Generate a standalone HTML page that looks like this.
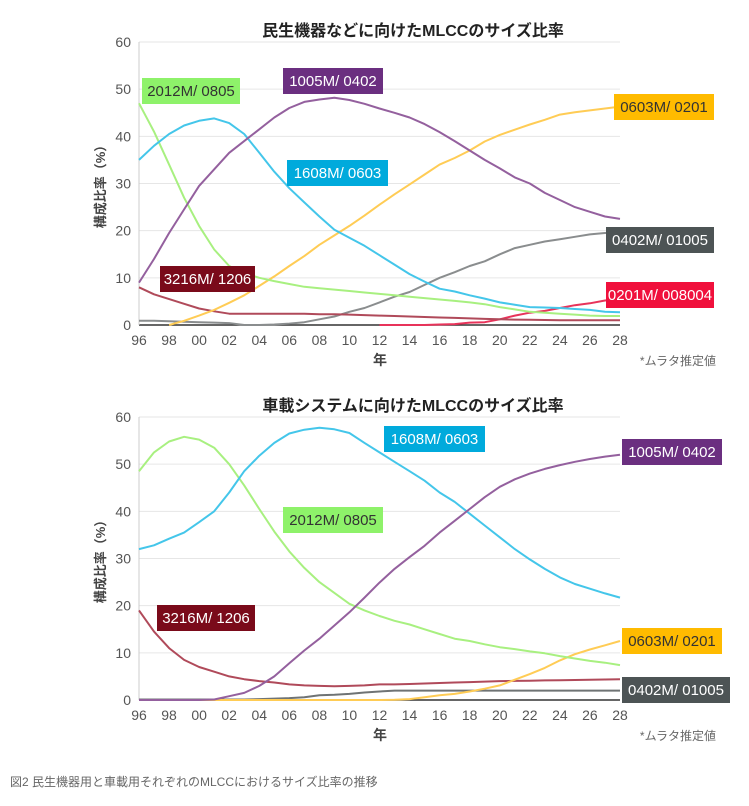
<!DOCTYPE html>
<html><head><meta charset="utf-8">
<style>
html,body{margin:0;padding:0;background:#fff;}
body{width:749px;height:801px;overflow:hidden;font-family:"Liberation Sans","Noto Sans CJK JP",sans-serif;}
svg text{font-family:"Liberation Sans","Noto Sans CJK JP",sans-serif;}
</style></head>
<body>
<svg id="chart" width="749" height="801" viewBox="0 0 749 801" xmlns="http://www.w3.org/2000/svg"></svg>
<script>
// shared categories
const years = ['96','97','98','99','00','01','02','03','04','05','06','07','08','09','10','11','12','13','14','15','16','17','18','19','20','21','22','23','24','25','26','27','28'];
const tickLabels = ['96','98','00','02','04','06','08','10','12','14','16','18','20','22','24','26','28'];
const yTicks = [0,10,20,30,40,50,60];

// top chart (consumer)
const topTitle = '民生機器などに向けたMLCCのサイズ比率';
const top2012 = [47,41,34,27,21,16,12.5,11,10,9.3,8.7,8.1,7.8,7.5,7.2,6.9,6.6,6.3,6,5.7,5.4,5.1,4.8,4.4,3.8,3.3,2.8,2.6,2.4,2.2,2.0,1.9,1.9];
const top1608 = [35,38,40.5,42.3,43.3,43.8,42.8,40.5,36.5,32.5,29,26,23,20.2,18.5,16.8,14.8,12.8,10.8,9.2,7.7,7.1,6.3,5.6,4.8,4.3,3.8,3.7,3.6,3.4,3.2,2.8,2.7];
const top1005 = [9,14,19.5,24.5,29.5,33,36.5,39,41.5,44,46,47.3,47.8,48.2,47.7,46.9,45.9,45,44,42.6,40.9,39,37,35,33.2,31.3,30,28,26.5,25,24,23,22.5];
const top0603 = [null,null,0,0.9,2,3.2,4.7,6.3,8.3,10.3,12.5,14.6,17,19,21,23.2,25.5,27.7,29.8,31.9,34,35.4,37,38.9,40.3,41.4,42.5,43.5,44.6,45.1,45.5,45.9,46.3];
const top0402 = [0.9,0.9,0.8,0.7,0.6,0.5,0.4,0,0,0.1,0.3,0.6,1.2,1.8,2.8,3.6,4.8,6,7,8.5,10,11.2,12.5,13.5,15,16.3,17,17.7,18.2,18.7,19.2,19.5,19.6];
const top3216 = [8,6.5,5.5,4.5,3.5,2.9,2.4,2.4,2.4,2.4,2.4,2.4,2.3,2.3,2.2,2.1,2.0,1.9,1.8,1.7,1.6,1.5,1.4,1.3,1.2,1.15,1.1,1.05,1,1,1,1,1];
const top0201 = [null,null,null,null,null,null,null,null,null,null,null,null,null,null,null,null,0,0,0,0,0.1,0.2,0.5,0.6,1.2,2,2.6,3,3.6,4.2,4.6,5.2,5.6];

// bottom chart (automotive)
const botTitle = '車載システムに向けたMLCCのサイズ比率';
const bot1608 = [32,32.8,34.2,35.5,37.7,40,44,48.5,51.8,54.5,56.5,57.3,57.7,57.4,56.6,54.5,52.5,50.5,48.5,46.5,44,42,39.5,37,34.5,32,29.8,27.8,26,24.6,23.6,22.6,21.7];
const bot2012 = [48.5,52.5,54.8,55.8,55.2,53.5,50,45.5,40.5,35.7,31.5,28,25,22.7,20.4,19,17.8,16.8,16,15,14,13,12.5,11.8,11.2,10.8,10.3,9.9,9.3,8.8,8.3,7.9,7.4];
const bot1005 = [0,0,0,0,0,0.1,0.8,1.5,3,5,7.8,10.5,13,15.8,18.6,21.7,24.9,27.8,30.3,32.7,35.5,38,40.5,43,45.2,46.8,48,49,49.8,50.5,51.1,51.6,52];
const bot0603 = [0,0,0,0,0,0,0,0,0,0,0,0,0,0,0,0,0,0.05,0.2,0.6,1,1.3,1.8,2.4,3.1,4.3,5.5,6.8,8.4,9.7,10.7,11.6,12.5];
const bot0402 = [0.1,0.1,0.1,0.1,0.1,0.1,0.1,0.1,0.2,0.3,0.4,0.6,1,1.1,1.3,1.6,1.8,2,2,2,2,2,2,2,2,2,2,2,2,2,2,2,2];
const bot3216 = [19,14.5,11,8.5,7,6,5,4.4,4,3.7,3.3,3.1,3.0,2.9,3,3.1,3.3,3.3,3.4,3.5,3.6,3.7,3.8,3.9,4,4.05,4.1,4.15,4.2,4.25,4.3,4.35,4.4];

const NS='http://www.w3.org/2000/svg';
const svg=document.getElementById('chart');
function mk(tag,attrs,parent){const e=document.createElementNS(NS,tag);for(const k in attrs)e.setAttribute(k,attrs[k]);(parent||svg).appendChild(e);return e;}

function drawChart(g, cfg){
  const x0=139,x1=620,yb=cfg.yBase,yt=cfg.yTop;
  const xScale=i=>x0+(x1-x0)*i/(years.length-1);
  const yScale=v=>yb-(yb-yt)*v/60;
  const t=mk('text',{x:413,y:cfg.titleY,'text-anchor':'middle','font-size':'16','font-weight':'bold',fill:'#222'},g);
  t.textContent=cfg.title;
  
  
  yTicks.forEach(v=>{
    const l=mk('line',{x1:x0,x2:x1,y1:yScale(v),y2:yScale(v),stroke:v===0?'#333':'#e6e6e6','stroke-width':v===0?1.5:1},g);
    
    
    const tt=mk('text',{x:x0-8,y:yScale(v)+5,'text-anchor':'end','font-size':'14',fill:'#555'},g);
    tt.textContent=v;
    
    
  });
  const ax=mk('line',{x1:x0,x2:x0,y1:yt,y2:yb,stroke:'#ccc','stroke-width':1},g);
  
  
  tickLabels.forEach(lab=>{
    const i=years.indexOf(lab);
    const tt=mk('text',{x:xScale(i),y:yb+20,'text-anchor':'middle','font-size':'14',fill:'#555'},g);
    tt.textContent=lab;
    
    
  });
  const xt=mk('text',{x:380,y:yb+40,'text-anchor':'middle','font-size':'14','font-weight':'bold',fill:'#444'},g);
  xt.textContent='年';
  
  
  const note=mk('text',{x:716,y:yb+40,'text-anchor':'end','font-size':'12',fill:'#666'},g);
  note.textContent='*ムラタ推定値';
  
  
  const yl=mk('text',{x:0,y:0,'text-anchor':'middle','font-size':'13','font-weight':'bold',fill:'#444',transform:`translate(105,${(yt+yb)/2}) rotate(-90)`},g);
  yl.textContent='構成比率（%）';
  
  
  cfg.series.forEach(s=>{
    let d='',pen=false;
    s.data.forEach((v,i)=>{
      if(v===null){pen=false;return;}
      d+=(pen?'L':'M')+xScale(i).toFixed(1)+','+yScale(v).toFixed(1);pen=true;
    });
    const p=mk('path',{d:d,fill:'none',stroke:s.color,'stroke-width':2,'stroke-linejoin':'round'},g);
    
    
  });
  cfg.series.forEach(s=>{
    const [lx,ly,lw]=s.label;
    const r=mk('rect',{x:lx,y:ly,width:lw,height:26,fill:s.box},g);
    
    
    const tt=mk('text',{x:lx+lw/2,y:ly+18,'text-anchor':'middle','font-size':'15',fill:s.text},g);
    tt.textContent=s.title;
    
    
  });
}

const gTop=mk('g',{});


drawChart(gTop,{title:topTitle,titleY:36,yBase:325,yTop:42,series:[
  {name:'0402',data:top0402,color:'#8a8d8e',box:'#4d5455',text:'#fff',title:'0402M/ 01005',label:[606,227,108]},
  {name:'0201',data:top0201,color:'#e8335a',box:'#f0103c',text:'#fff',title:'0201M/ 008004',label:[606,282,108]},
  {name:'3216',data:top3216,color:'#b04a5a',box:'#7a0a1a',text:'#fff',title:'3216M/ 1206',label:[160,266,95]},
  {name:'0603',data:top0603,color:'#ffcc55',box:'#ffbb00',text:'#333',title:'0603M/ 0201',label:[614,94,100]},
  {name:'2012',data:top2012,color:'#a8f080',box:'#8ef26a',text:'#333',title:'2012M/ 0805',label:[142,78,98]},
  {name:'1608',data:top1608,color:'#44c6ea',box:'#00aadc',text:'#fff',title:'1608M/ 0603',label:[287,160,101]},
  {name:'1005',data:top1005,color:'#94609e',box:'#6b2f80',text:'#fff',title:'1005M/ 0402',label:[283,68,100]}
]});

const gBot=mk('g',{});


drawChart(gBot,{title:botTitle,titleY:411,yBase:700,yTop:417,series:[
  {name:'0402',data:bot0402,color:'#6f7374',box:'#4d5455',text:'#fff',title:'0402M/ 01005',label:[622,677,108]},
  {name:'3216',data:bot3216,color:'#b04a5a',box:'#7a0a1a',text:'#fff',title:'3216M/ 1206',label:[157,605,98]},
  {name:'0603',data:bot0603,color:'#ffcc55',box:'#ffbb00',text:'#333',title:'0603M/ 0201',label:[622,628,100]},
  {name:'2012',data:bot2012,color:'#a8f080',box:'#8ef26a',text:'#333',title:'2012M/ 0805',label:[283,507,100]},
  {name:'1608',data:bot1608,color:'#44c6ea',box:'#00aadc',text:'#fff',title:'1608M/ 0603',label:[384,426,101]},
  {name:'1005',data:bot1005,color:'#94609e',box:'#6b2f80',text:'#fff',title:'1005M/ 0402',label:[622,439,100]}
]});

const cap=mk('text',{x:10,y:786,'font-size':'12',fill:'#666'});
cap.textContent='図2 民生機器用と車載用それぞれのMLCCにおけるサイズ比率の推移';


</script>
</body></html>
